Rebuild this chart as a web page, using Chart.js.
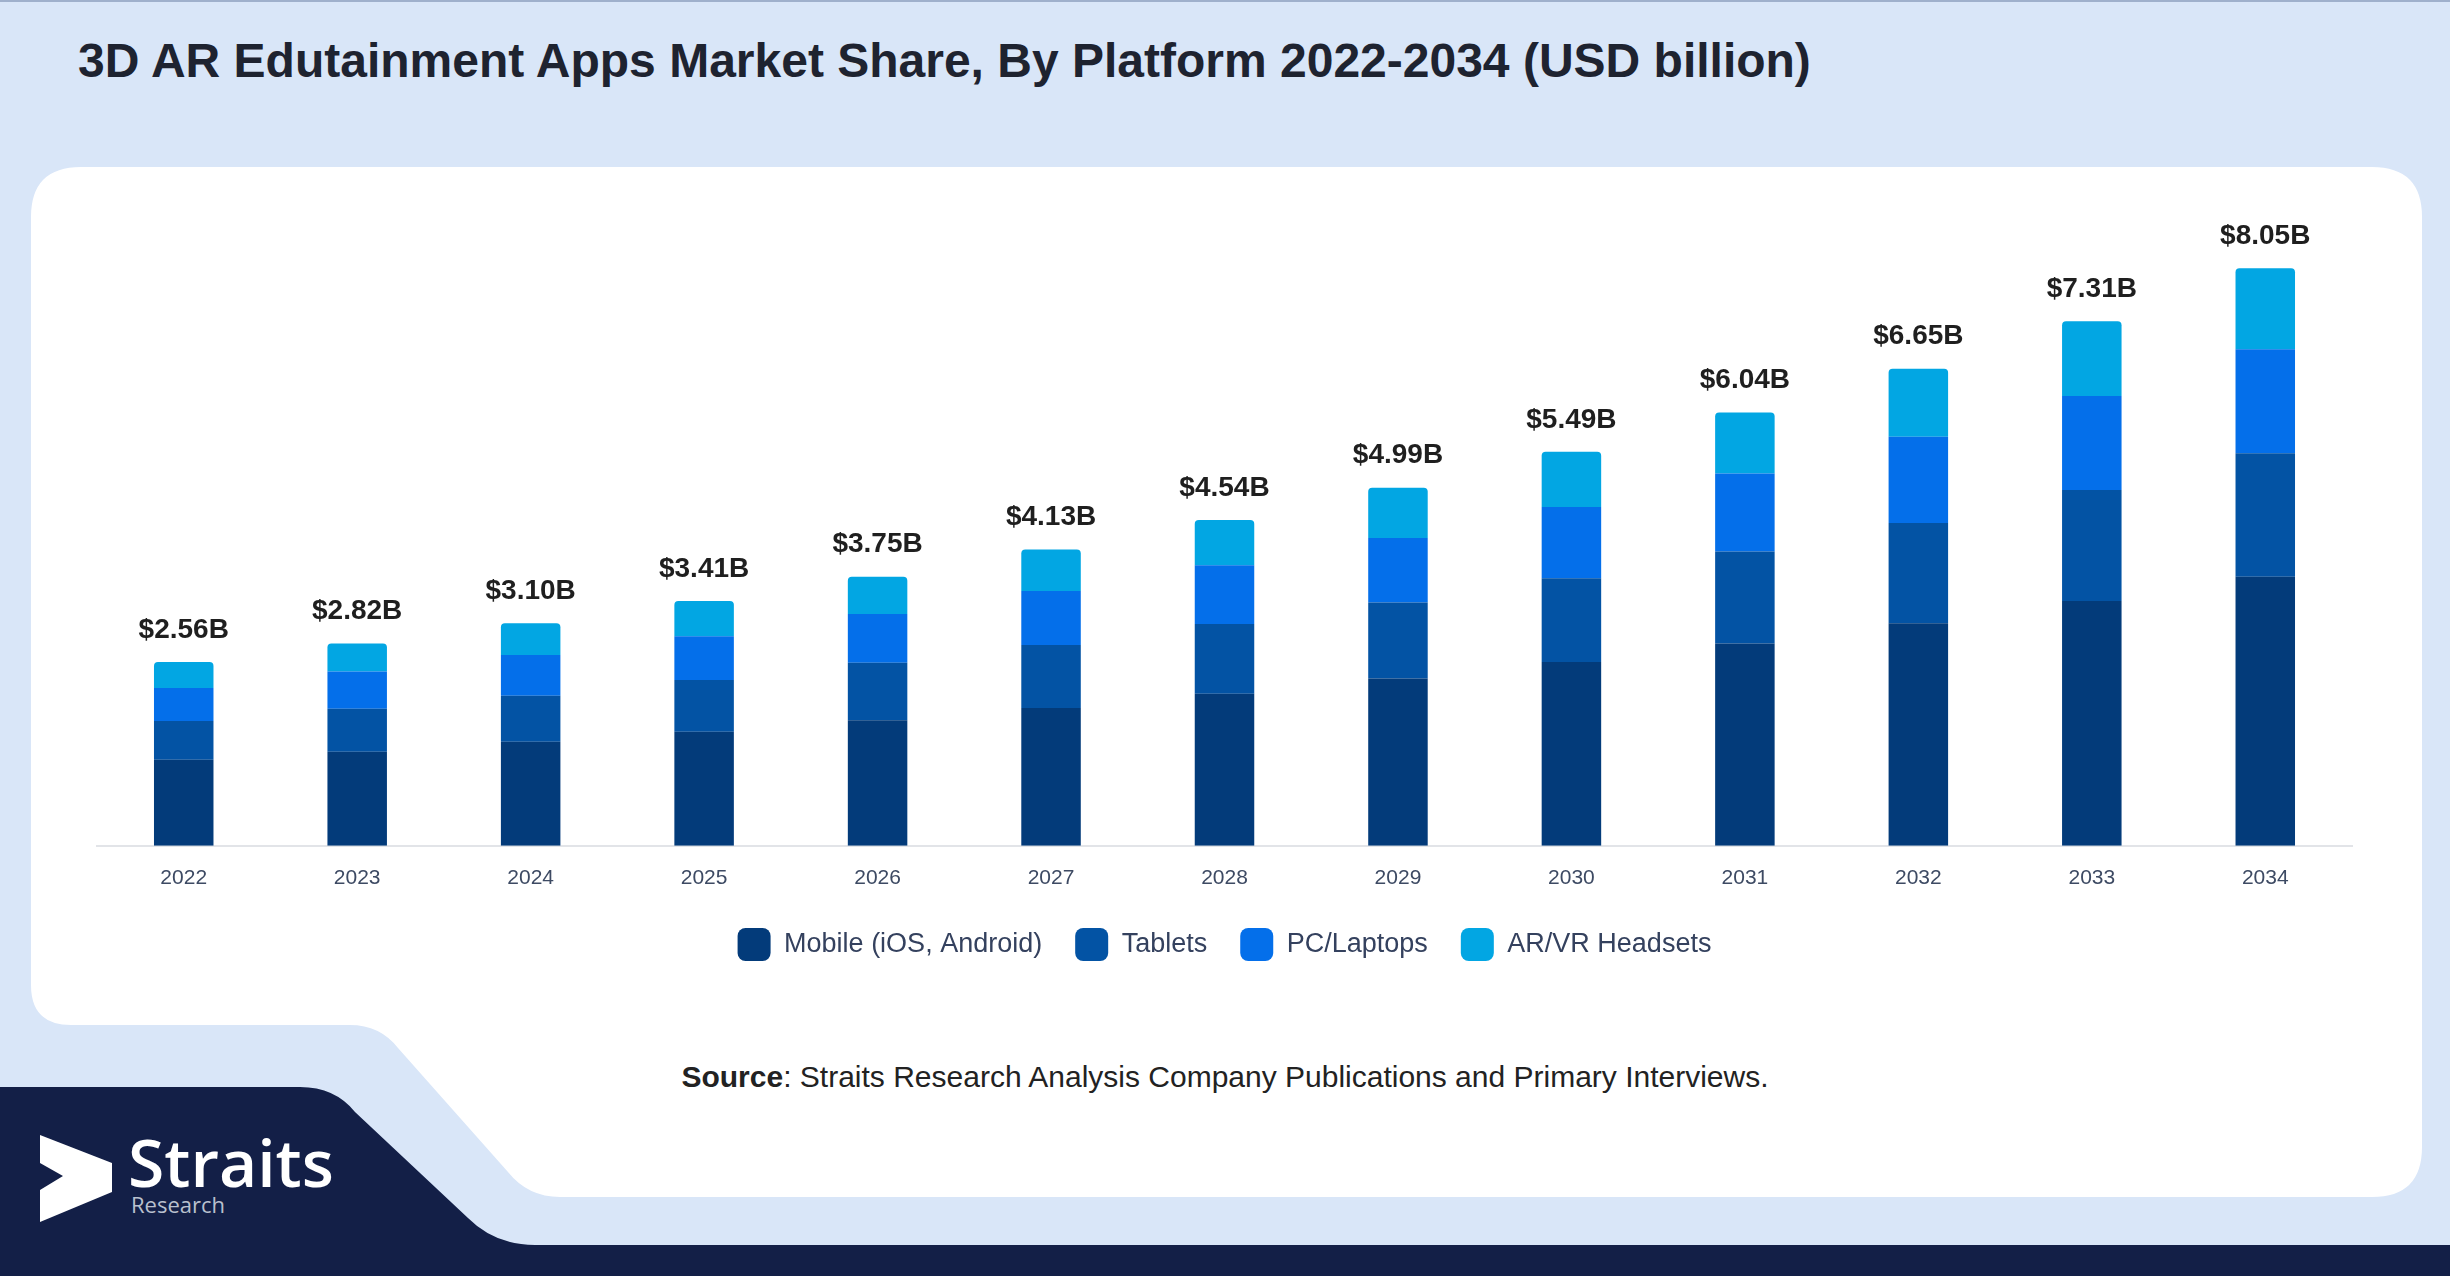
<!DOCTYPE html>
<html>
<head>
<meta charset="utf-8">
<title>3D AR Edutainment Apps Market Share</title>
<script src="https://cdn.jsdelivr.net/npm/chart.js"></script>
<style>
  html, body { margin: 0; padding: 0; }
  body {
    width: 2450px; height: 1276px; overflow: hidden; position: relative;
    background: #d9e6f8; font-family: "Liberation Sans", Arial, sans-serif;
  }
  #bg { position: absolute; left: 0; top: 0; }
  .title {
    position: absolute; left: 78px; top: 33px; margin: 0;
    font-size: 48px; font-weight: bold; color: #1e2330; white-space: nowrap;
  }
  #chart-box { position: absolute; left: 60px; top: 170px; width: 2330px; height: 830px; }
  .source {
    position: absolute; left: 0; width: 2450px; top: 1060px; text-align: center;
    font-size: 30px; color: #222; white-space: nowrap;
  }
</style>
</head>
<body>
<svg id="bg" width="2450" height="1276" viewBox="0 0 2450 1276">
  <rect x="0" y="0" width="2450" height="2" fill="#9fb0cc"/>
  <!-- white card with cut-out lower left -->
  <path fill="#ffffff" d="M31,217 Q31,167 81,167 H2372 Q2422,167 2422,217 V1147 Q2422,1197 2372,1197 H560
    Q528,1197 508,1172 L398,1048 Q380,1025 350,1025 H71 Q31,1025 31,985 Z"/>
  <!-- navy band -->
  <path fill="#131f47" d="M0,1087 H300 Q335,1087 355,1112 L468,1218 Q495,1245 535,1245 H2450 V1276 H0 Z"/>
  <!-- logo -->
  <polygon fill="#ffffff" points="40,1135 112,1163 112,1192 40,1222 40,1190 63,1176 40,1163"/>
  <text x="128" y="1187" fill="#ffffff" font-family="Open Sans" font-weight="600" font-size="66">Straits</text>
  <text x="131" y="1213" fill="#b9c0ce" font-family="Open Sans" font-size="22">Research</text>
</svg>

<h1 class="title">3D AR Edutainment Apps Market Share, By Platform 2022-2034 (USD billion)</h1>

<div id="chart-box"><canvas id="chart"></canvas></div>

<div class="source"><b>Source</b>: Straits Research Analysis Company Publications and Primary Interviews.</div>

<script>
const years = ['2022', '2023', '2024', '2025', '2026', '2027', '2028', '2029', '2030', '2031', '2032', '2033', '2034'];
const totals = [2.56, 2.82, 3.10, 3.41, 3.75, 4.13, 4.54, 4.99, 5.49, 6.04, 6.65, 7.31, 8.05];
const mobile = [1.20, 1.31, 1.45, 1.59, 1.75, 1.92, 2.12, 2.33, 2.56, 2.82, 3.10, 3.41, 3.75];
const tablets = [0.54, 0.60, 0.64, 0.72, 0.80, 0.88, 0.97, 1.06, 1.17, 1.28, 1.40, 1.55, 1.72];
const pcLaptops = [0.46, 0.52, 0.57, 0.61, 0.68, 0.75, 0.82, 0.90, 0.99, 1.09, 1.20, 1.31, 1.45];
const arvrHeadsets = [0.36, 0.39, 0.44, 0.49, 0.52, 0.58, 0.63, 0.70, 0.77, 0.85, 0.95, 1.04, 1.13];

Chart.defaults.font.family = '"Liberation Sans", Arial, sans-serif';

// total value printed above each stack
const totalLabels = {
  id: 'totalLabels',
  afterDatasetsDraw(chart) {
    const { ctx } = chart;
    const meta = chart.getDatasetMeta(chart.data.datasets.length - 1);
    ctx.save();
    ctx.font = 'bold 28px "Liberation Sans", Arial, sans-serif';
    ctx.fillStyle = '#1f1f1f';
    ctx.textAlign = 'center';
    ctx.textBaseline = 'bottom';
    meta.data.forEach((bar, i) => {
      ctx.fillText('$' + totals[i].toFixed(2) + 'B', bar.x, bar.y - 18);
    });
    ctx.restore();
  },
};

const config = {
  type: 'bar',
  data: {
    labels: years,
    datasets: [
      { label: 'Mobile (iOS, Android)', data: mobile, backgroundColor: '#033b7a' },
      { label: 'Tablets', data: tablets, backgroundColor: '#0353a4' },
      { label: 'PC/Laptops', data: pcLaptops, backgroundColor: '#046fea' },
      { label: 'AR/VR Headsets', data: arvrHeadsets, backgroundColor: '#02a6e3' },
    ],
  },
  options: {
    responsive: true,
    maintainAspectRatio: false,
    animation: false,
    layout: { padding: { left: 37, right: 38, top: 30, bottom: 29 } },
    datasets: {
      bar: { barPercentage: 0.343, categoryPercentage: 1.0, borderRadius: 4 },
    },
    scales: {
      x: {
        stacked: true,
        grid: { display: false, drawTicks: false },
        border: { display: true, color: '#e2e4e8', width: 2 },
        ticks: { padding: 20, color: '#3d4a63', font: { size: 21 } },
        // pull the legend a little closer to the year labels
        afterFit: (scale) => {
          scale.height -= 16;
        },
      },
      y: {
        stacked: true,
        display: false,
        min: 0,
        max: 9,
      },
    },
    plugins: {
      legend: {
        position: 'bottom',
        labels: {
          boxWidth: 33,
          boxHeight: 33,
          useBorderRadius: true,
          borderRadius: 8,
          padding: 33,
          color: '#34415e',
          font: { size: 27 },
        },
      },
      tooltip: { enabled: false },
    },
  },
  plugins: [totalLabels],
};

new Chart(document.getElementById('chart'), config);
</script>
</body>
</html>
